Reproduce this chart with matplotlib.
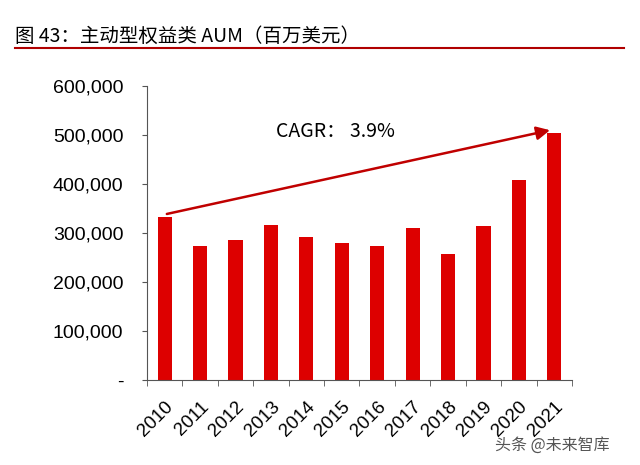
import matplotlib
matplotlib.use("Agg")
import matplotlib.pyplot as plt
from matplotlib.ticker import FuncFormatter, FixedLocator

plt.rcParams['font.family'] = ['Liberation Sans', 'Noto Sans CJK SC', 'DejaVu Sans']

# 数据
years = ['2010', '2011', '2012', '2013', '2014', '2015',
         '2016', '2017', '2018', '2019', '2020', '2021']
aum = [333000, 274000, 286000, 316000, 292000, 280000,
       274000, 310000, 257000, 315000, 409000, 505000]
cagr_label = 'CAGR： 3.9%'

red = '#dd0000'

fig = plt.figure(figsize=(6.4, 4.65), dpi=100)
ax = fig.add_axes([0.2297, 0.1828, 0.664, 0.632])

x = list(range(len(years)))
ax.bar(x, aum, width=0.4, color=red)

ax.set_xlim(-0.5, len(years) - 0.5)
ax.set_ylim(0, 600000)
ax.set_yticks(range(0, 600001, 100000))
ax.yaxis.set_major_formatter(FuncFormatter(lambda v, p: '-' if v == 0 else f'{int(v):,}'))
ax.tick_params(axis='y', labelsize=14, length=3.6, direction='out', pad=13.5, color='#555555')

ax.set_xticks(x)
ax.set_xticklabels(years, rotation=45, ha='right', rotation_mode='anchor', fontsize=13.5)
ax.tick_params(axis='x', which='major', length=0, pad=13)
ax.xaxis.set_minor_locator(FixedLocator([i - 0.5 for i in range(len(years) + 1)]))
ax.tick_params(axis='x', which='minor', length=4, direction='out', color='#555555')

for s in ['top', 'right']:
    ax.spines[s].set_visible(False)
for s in ['left', 'bottom']:
    ax.spines[s].set_color('#555555')

# CAGR 箭头
ax.annotate('', xy=(10.88, 510000), xytext=(0.06, 339000),
            arrowprops=dict(arrowstyle='-|>', color='#c00000', lw=1.8,
                            mutation_scale=20, shrinkA=0, shrinkB=0))
ax.text(3.15, 508000, cagr_label, fontsize=14, va='center', ha='left',
        family=['Noto Sans CJK SC', 'DejaVu Sans'])

# 标题
fig.text(0.024, 0.921, '图 43：主动型权益类 AUM（百万美元）', fontsize=14,
         family=['Noto Sans CJK SC', 'DejaVu Sans'], va='center', ha='left')
fig.add_artist(plt.Line2D([0.024, 0.975], [0.896, 0.896], color='#b00000', lw=1.5))

fig.text(0.953, 0.042, '头条 @未来智库', fontsize=11.5, color='#555555',
         family=['Noto Sans CJK SC', 'DejaVu Sans'], ha='right', va='center')

fig.savefig('out.png', dpi=100)
